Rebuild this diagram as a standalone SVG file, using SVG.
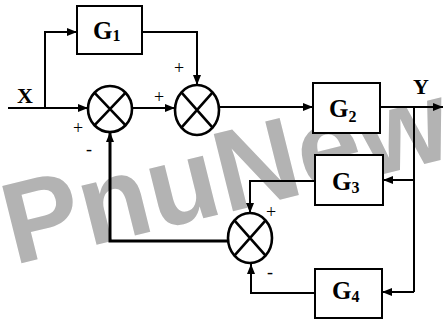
<svg xmlns="http://www.w3.org/2000/svg" width="443" height="322" viewBox="0 0 443 322">
<style>
.ln{fill:none;stroke:#000;stroke-width:2}
.lt{fill:none;stroke:#000;stroke-width:3}
.bx{fill:#fff;stroke:#000;stroke-width:2}
.sj{fill:none;stroke:#000;stroke-width:2.6}
.g{font-family:"Liberation Serif",serif;font-weight:bold;font-size:25px;fill:#000}
.sub{font-size:16px}
.lb{font-family:"Liberation Serif",serif;font-weight:bold;font-size:22px;fill:#000}
.sg{font-family:"Liberation Serif",serif;font-size:18px;fill:#000}
.wm{font-family:"Liberation Sans",sans-serif;font-weight:bold;font-size:112px;fill:#b3b3b3}
</style>
<defs>
<marker id="ah" viewBox="0 0 10 8" refX="10" refY="4" markerWidth="10" markerHeight="8" markerUnits="userSpaceOnUse" orient="auto">
<path d="M0,0 L10,4 L0,8 Z" fill="#000"/>
</marker>
</defs>
<rect width="443" height="322" fill="#fff"/>
<text class="wm" transform="matrix(1 -0.246 0.25 1 14 265)">PnuNew</text>
<g id="connectors">
<path class="ln" d="M8,108 H88" marker-end="url(#ah)"/>
<path class="ln" d="M45,108 V32 H77" marker-end="url(#ah)"/>
<path class="ln" d="M142,32 H197 V85" marker-end="url(#ah)"/>
<path class="ln" d="M132,108 H175" marker-end="url(#ah)"/>
<path class="ln" d="M219,107 H313" marker-end="url(#ah)"/>
<path class="ln" d="M380,107 H443" marker-end="url(#ah)"/>
<path class="ln" d="M414,107 V292"/>
<path class="ln" d="M414,180 H383" marker-end="url(#ah)"/>
<path class="ln" d="M414,292 H382" marker-end="url(#ah)"/>
<path class="ln" d="M315,181 H250 V213" marker-end="url(#ah)"/>
<path class="ln" d="M315,293 H251 V264" marker-end="url(#ah)"/>
<path class="lt" d="M228,241 H110 V132" marker-end="url(#ah)"/>
</g>
<g id="G1"><rect class="bx" x="77" y="6" width="65" height="48"/><text class="g" x="93" y="39">G<tspan class="sub" dy="2">1</tspan></text></g>
<g id="G2"><rect class="bx" x="313" y="83" width="67" height="50"/><text class="g" x="329" y="117">G<tspan class="sub" dy="5">2</tspan></text></g>
<g id="G3"><rect class="bx" x="315" y="155" width="68" height="50"/><text class="g" x="332" y="190">G<tspan class="sub" dy="3">3</tspan></text></g>
<g id="G4"><rect class="bx" x="315" y="269" width="67" height="49"/><text class="g" x="332" y="299">G<tspan class="sub" dy="3">4</tspan></text></g>
<g id="S1"><ellipse class="sj" cx="110" cy="109" rx="22" ry="23"/><path class="sj" d="M94.4,92.7 L125.6,125.3 M125.6,92.7 L94.4,125.3"/></g>
<g id="S2"><ellipse class="sj" cx="197" cy="110" rx="22" ry="25"/><path class="sj" d="M181.4,92.3 L212.6,127.7 M212.6,92.3 L181.4,127.7"/></g>
<g id="S3"><ellipse class="sj" cx="250" cy="238" rx="22" ry="25"/><path class="sj" d="M234.4,220.3 L265.6,255.7 M265.6,220.3 L234.4,255.7"/></g>
<g id="labels">
<text class="lb" x="17" y="103">X</text>
<text class="lb" x="413" y="94">Y</text>
<text class="sg" x="73" y="134">+</text>
<text class="sg" x="86" y="155">-</text>
<text class="sg" x="154" y="103">+</text>
<text class="sg" x="174" y="74">+</text>
<text class="sg" x="266" y="218">+</text>
<text class="sg" x="267" y="278">-</text>
</g>
</svg>
